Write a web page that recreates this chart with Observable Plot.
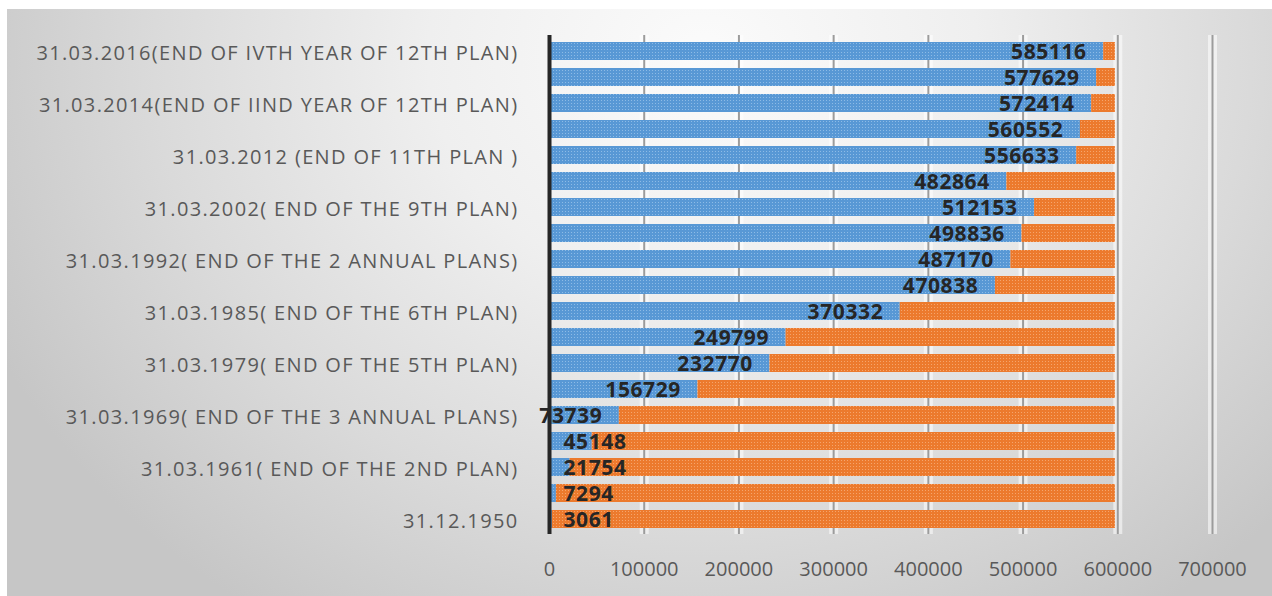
<!DOCTYPE html>
<html>
<head>
<meta charset="utf-8">
<script src="https://cdn.jsdelivr.net/npm/d3@7"></script>
<script src="https://cdn.jsdelivr.net/npm/@observablehq/plot@0.6"></script>
<style>
  html, body { margin: 0; padding: 0; width: 1272px; height: 596px; overflow: hidden; background: #ffffff; }
  #bg {
    position: absolute; left: 7px; top: 9px; right: 0; bottom: 0;
    background: radial-gradient(ellipse 62% 115% at 55% 8%, #fbfbfb 0%, #efefef 35%, #dadada 70%, #c6c6c6 100%);
  }
  #chart { position: absolute; left: 0; top: 0; }
</style>
</head>
<body>
<div id="bg"></div>
<div id="chart"></div>
<script>
// Plan milestones, oldest first
const categories = [
  "31.12.1950",
  "31.03.1956( END OF THE 1ST PLAN)",
  "31.03.1961( END OF THE 2ND PLAN)",
  "31.03.1966( END OF THE 3RD PLAN)",
  "31.03.1969( END OF THE 3 ANNUAL PLANS)",
  "31.03.1974( END OF THE 4TH PLAN)",
  "31.03.1979( END OF THE 5TH PLAN)",
  "31.03.1980( END OF THE ANNUAL PLAN)",
  "31.03.1985( END OF THE 6TH PLAN)",
  "31.03.1990( END OF THE 7TH PLAN)",
  "31.03.1992( END OF THE 2 ANNUAL PLANS)",
  "31.03.1997( END OF THE 8TH PLAN)",
  "31.03.2002( END OF THE 9TH PLAN)",
  "31.03.2007( END OF THE 10TH PLAN)",
  "31.03.2012 (END OF 11TH PLAN )",
  "31.03.2013(END OF IST YEAR OF 12TH PLAN)",
  "31.03.2014(END OF IIND YEAR OF 12TH PLAN)",
  "31.03.2015(END OF IIIRD YEAR OF 12TH PLAN)",
  "31.03.2016(END OF IVTH YEAR OF 12TH PLAN)"
];

// Villages electrified at each milestone
const electrified = [
  3061, 7294, 21754, 45148, 73739, 156729, 232770, 249799, 370332, 470838,
  487170, 498836, 512153, 482864, 556633, 560552, 572414, 577629, 585116
];

// Total inhabited villages (Census 2011)
const totalVillages = 597464;

const xTicks = [0, 100000, 200000, 300000, 400000, 500000, 600000, 700000];

const seriesNames = ["Electrified", "Not electrified"];

const rows = categories.flatMap((c, i) => [
  {category: c, series: seriesNames[0], value: electrified[i]},
  {category: c, series: seriesNames[1], value: totalVillages - electrified[i]}
]);
const labels = categories.map((c, i) => ({category: c, value: electrified[i]}));

const font = "'Open Sans', 'Noto Sans', sans-serif";

const chart = Plot.plot({
  width: 1272,
  height: 596,
  marginLeft: 549,
  marginRight: 60,
  marginTop: 35,
  marginBottom: 62,
  style: {background: "transparent", fontFamily: font, color: "#595959"},
  x: {domain: [0, 700000], axis: null},
  y: {domain: categories.slice().reverse(), paddingInner: 0.315, paddingOuter: 0.15, axis: null},
  color: {domain: seriesNames, range: ["url(#dotBlue)", "url(#dotOrange)"]},
  marks: [
    // soft halo and line for each gridline
    Plot.ruleX(xTicks.slice(1), {stroke: "#ffffff", strokeOpacity: 0.55, strokeWidth: 9}),
    Plot.ruleX(xTicks.slice(1), {stroke: "#9c9c9c", strokeWidth: 2}),
    Plot.barX(rows, Plot.stackX({y: "category", x: "value", fill: "series", order: seriesNames})),
    Plot.ruleX([0], {stroke: "#262626", strokeWidth: 4}),
    Plot.axisX({ticks: xTicks, tickFormat: d => String(d), tickSize: 0, tickPadding: 27, fontSize: 20, label: null}),
    Plot.axisY({
      tickSize: 0, tickPadding: 31, fontSize: 20, label: null, dy: 2,
      tickFormat: d => (categories.indexOf(d) % 2 === 0 ? d : "")
    }),
    // value labels: inside the end of long bars, inside the base of short ones
    Plot.text(labels.filter(d => d.value >= 60000), {
      x: "value", y: "category", text: d => String(d.value),
      textAnchor: "end", dx: -17, dy: 1, fontSize: 21, fontWeight: "bold", fill: "#262626",
      className: "value-label"
    }),
    Plot.text(labels.filter(d => d.value < 60000), {
      x: 0, y: "category", text: d => String(d.value),
      textAnchor: "start", dx: 14, dy: 1, fontSize: 21, fontWeight: "bold", fill: "#262626",
      className: "value-label"
    })
  ]
});

// wider letter spacing for the category and value labels
d3.select(chart).selectAll("g[aria-label='y-axis tick label'] text").style("letter-spacing", "1.35px");
d3.select(chart).selectAll(".value-label text").style("letter-spacing", "0.6px");

// dotted fills for the bars
const defs = d3.select(chart).insert("defs", ":first-child");
function dotPattern(id, base, dot) {
  const p = defs.append("pattern").attr("id", id).attr("patternUnits", "userSpaceOnUse")
    .attr("width", 3).attr("height", 3);
  p.append("rect").attr("width", 3).attr("height", 3).attr("fill", base);
  p.append("rect").attr("x", 1).attr("y", 1).attr("width", 1).attr("height", 1).attr("fill", dot);
}
dotPattern("dotBlue", "#5898d5", "#8dbbe6");
dotPattern("dotOrange", "#ec7a2d", "#f5a56c");

document.getElementById("chart").append(chart);
</script>
</body>
</html>
